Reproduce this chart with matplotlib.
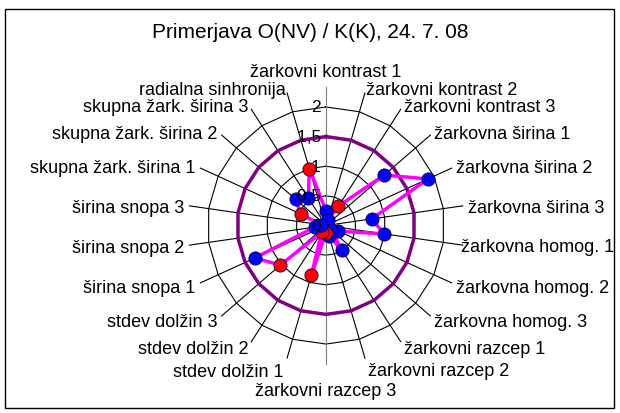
import numpy as np
import matplotlib
matplotlib.use("Agg")
import matplotlib.pyplot as plt
from matplotlib.patches import Rectangle

plt.rcParams['font.family'] = ['Liberation Sans', 'DejaVu Sans']

kategorije = [
    "žarkovni kontrast 1", "žarkovni kontrast 2", "žarkovni kontrast 3",
    "žarkovna širina 1", "žarkovna širina 2", "žarkovna širina 3",
    "žarkovna homog. 1", "žarkovna homog. 2", "žarkovna homog. 3",
    "žarkovni razcep 1", "žarkovni razcep 2", "žarkovni razcep 3",
    "stdev dolžin 1", "stdev dolžin 2", "stdev dolžin 3",
    "širina snopa 1", "širina snopa 2", "širina snopa 3",
    "skupna žark. širina 1", "skupna žark. širina 2", "skupna žark. širina 3",
    "radialna sinhronija",
]
# razmerje O(NV) / K(K) po kategorijah
razmerje = [0.25, 0.10, 0.39, 1.30, 1.89, 0.78, 0.99, 0.23, 0.12, 0.49, 0.18,
            0.12, 0.87, 0.14, 1.02, 1.32, 0.19, 0.08, 0.47, 0.68, 0.55, 1.00]
# 'r' = rdeca tocka, 'b' = modra tocka
tocka = ['b', 'b', 'r', 'b', 'b', 'b', 'b', 'b', 'b', 'b', 'b',
         'r', 'r', 'r', 'r', 'b', 'b', 'b', 'r', 'b', 'b', 'r']
meja = 1.5
obroci = [0.5, 1.0, 1.5, 2.0]
oznake_osi = ["0", "0,5", "1", "1,5", "2"]

# polmer oznak, kjer se razlikuje od privzetega
polmer_oznake = {6: 2.30, 10: 2.52, 11: 2.64, 12: 2.53}

n = len(kategorije)
kot = np.arange(n) * 2 * np.pi / n
kot_z = np.append(kot, kot[0])

fig = plt.figure(figsize=(6.2, 4.14), dpi=100)
fig.patches.append(Rectangle((5 / 620, 1 - 409 / 414), 609 / 620, 399 / 414,
                             transform=fig.transFigure, fill=False,
                             edgecolor='black', linewidth=1.0))
fig.text(0.5, 1 - 32 / 414, "Primerjava O(NV) / K(K), 24. 7. 08",
         ha='center', va='center', fontsize=15)

R = 2.75
ax = fig.add_axes([163 / 620, 1 - 389.5 / 414, 326 / 620, 326 / 414],
                  projection='polar')
ax.set_theta_zero_location('N')
ax.set_theta_direction(-1)
ax.set_ylim(0, R)
ax.grid(False)
ax.set_xticks([])
ax.set_yticks([])
ax.spines['polar'].set_visible(False)
ax.patch.set_visible(False)

# mreza
for r in obroci:
    ax.plot(kot_z, [r] * (n + 1), color='black', lw=0.8, zorder=1)
for i, t in enumerate(kot):
    barva = '#808080' if i in (0, 11) else 'black'
    ax.plot([t, t], [0, 2.33], color=barva, lw=0.8, zorder=1)

# oznake vrednosti
for r, s in zip([0] + obroci, oznake_osi):
    ax.text(0, r, s + " ", ha='right', va='center', fontsize=12.5, zorder=5)

# oznake kategorij
for i, (t, s) in enumerate(zip(kot, kategorije)):
    sx = np.sin(t)
    if abs(sx) < 0.05:
        ha = 'center'
        va = 'bottom' if np.cos(t) > 0 else 'top'
        rr = 2.45
    else:
        ha = 'left' if sx > 0 else 'right'
        va = 'center_baseline'
        rr = 2.42
    rr = polmer_oznake.get(i, rr)
    ax.text(t, rr, s, ha=ha, va=va, fontsize=13)

# meja 1,5
ax.plot(kot_z, [meja] * (n + 1), color='#800080', lw=2.5, zorder=2)

# razmerje
vr = np.append(razmerje, razmerje[0])
ax.plot(kot_z, vr, color='#FF00FF', lw=2.5, zorder=3)
for t, v, c in zip(kot, razmerje, tocka):
    ax.plot(t, v, 'o', ms=9.5, mfc='#FF0000' if c == 'r' else '#0000FF',
            mec='#000040', mew=0.6, zorder=4)

fig.savefig("out.png", dpi=100)
